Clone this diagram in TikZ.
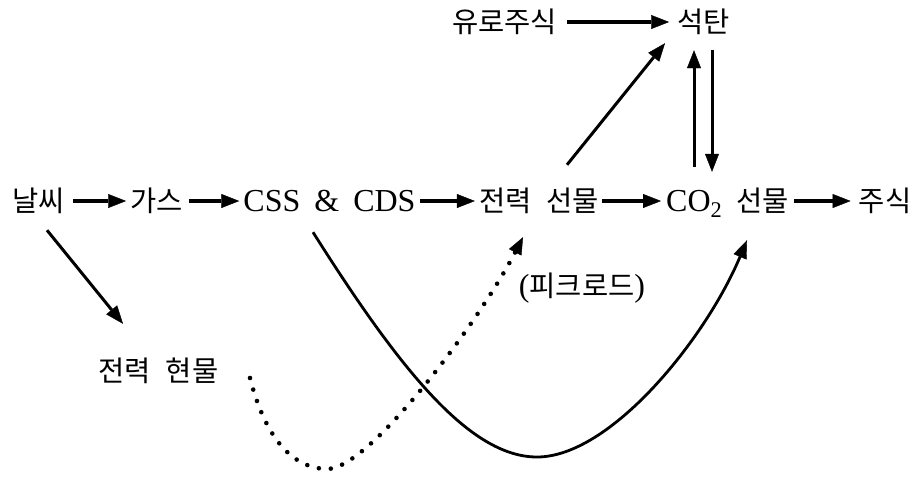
\documentclass[tikz,border=0pt]{standalone}
\usepackage{fontspec}
\setmainfont{Liberation Serif}
\newfontfamily\krfont{Noto Sans CJK KR}
\usetikzlibrary{arrows.meta,calc}
\newcommand{\kor}[1]{{\krfont\fontsize{28.5}{30}\selectfont #1}}
\begin{document}
\begin{tikzpicture}[x=1pt,y=-1pt,
  lbl/.style={inner sep=0pt, anchor=base, text height=22pt, text depth=2pt, font=\fontsize{32}{34}\selectfont},
  arr/.style={line width=3.3pt, -{Triangle[length=18pt,width=14pt,line width=0.4pt]}},
  darr/.style={line width=3pt, -{Triangle[length=18pt,width=14pt,line width=0.4pt]}},
  carr/.style={line width=2.8pt, -{Triangle[length=18pt,width=14pt,line width=0.4pt]}},
  dotarr/.style={line width=4.6pt, line cap=round, dash pattern=on 0pt off 12pt, -{Triangle[length=17pt,width=14pt,line width=0.4pt]}}]
\useasboundingbox (0,0) rectangle (917,499);
% nodes
\node[lbl] (w)    at (39,211)    {\kor{날씨}};
\node[lbl] (g)    at (156.5,211) {\kor{가스}};
\node[lbl] (c)    at (329.5,211) {CSS\hspace{14pt}\&\hspace{14pt}CDS};
\node[lbl] (pf)   at (539,211)   {\kor{전력\hspace{15pt}선물}};
\node[lbl] (co)   at (727.5,211) {CO\textsubscript{2}\hspace{14pt}\kor{선물}};
\node[lbl] (st)   at (885,211)   {\kor{주식}};
\node[lbl] (eu)   at (504.5,32)  {\kor{유로주식}};
\node[lbl] (coal) at (703.5,32)  {\kor{석탄}};
\node[lbl] (sp)   at (158.5,381) {\kor{전력\hspace{15pt}현물}};
\node[lbl] (pk)   at (582,296)   {(\kor{피크로드})};
% horizontal arrows
\draw[arr] ([xshift=8pt]w.east) -- ([xshift=-4pt]g.west);
\draw[arr] ([xshift=6pt]g.east) -- ([xshift=-4pt]c.west);
\draw[arr] ([xshift=4pt]c.east) -- ([xshift=-4pt]pf.west);
\draw[arr] ([xshift=3pt]pf.east) -- ([xshift=-5pt]co.west);
\draw[arr] ([xshift=5pt]co.east) -- ([xshift=-8pt]st.west);
\draw[arr] ([xshift=10pt]eu.east) -- ([xshift=-8pt]coal.west);
% diagonal and vertical arrows
\draw[darr] ($(w.south)+(8,17)$) -- ($(sp.north)+(-35.5,-35)$);
\draw[darr] ($(pf.north)+(28,-24)$) -- ($(coal.south)+(-38.5,9)$);
\draw[darr] ($(co.north)+(-33.5,-22)$) -- ($(coal.south)+(-9.5,16)$);
\draw[darr] ($(coal.south)+(8.5,16)$) -- ($(co.north)+(-15.5,-17)$);
% curves
\coordinate (s1) at ($(c.south)+(-16.5,19)$);
\coordinate (s2) at ($(co.south)+(19.5,27)$);
\draw[carr] (s1) .. controls (400,370) and (470,457) .. (537,457)
                 .. controls (610,457) and (705,340) .. (s2);
\coordinate (d1) at ($(sp.base)+(91.5,-3)$);
\coordinate (d2) at ($(pf.south)+(-16,24)$);
\draw[dotarr] (d1) .. controls (262,425) and (285,468) .. (327,469)
                   .. controls (370,469) and (480,320) .. (d2);
\end{tikzpicture}
\end{document}
